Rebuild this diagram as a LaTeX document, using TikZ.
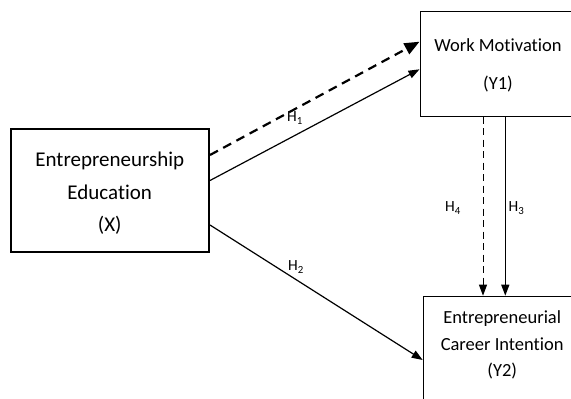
\documentclass[tikz,border=0pt]{standalone}
\usepackage{fontspec}
\setmainfont{Carlito}[Ligatures=NoCommon]
\usetikzlibrary{arrows.meta,calc}
\begin{document}
\begin{tikzpicture}[x=1pt,y=-1pt,
  construct/.style={draw,line width=1pt,inner sep=0pt},
  bigconstruct/.style={draw,line width=2pt,inner sep=0pt},
  caption/.style={align=center,inner sep=0pt},
  link/.style={line width=1.2pt,-{Triangle[length=11pt,width=8pt]}},
  dashlink/.style={line width=1pt,dash pattern=on 7pt off 4.5pt,-{Triangle[length=11pt,width=8pt]}},
  boldlink/.style={line width=2.2pt,dash pattern=on 9pt off 6pt,-{Triangle[length=15pt,width=12pt,sep=0pt]}},
  hyp/.style={font=\fontsize{15.5}{18}\selectfont,inner sep=0pt}]
\useasboundingbox (0,0) rectangle (571,399);
\clip (0,0) rectangle (571,399);

% constructs
\node[bigconstruct,minimum width=198.5pt,minimum height=123pt] (ex) at (109.75,190.5) {};
\node[caption,font=\fontsize{21}{32.5}\selectfont] (extxt) at ($(ex.center)+(0,3)$)
      {Entrepreneurship\\Education\\(X)};
\node[construct,anchor=north west,minimum width=156pt,minimum height=104.5pt] (wm) at (419.5,11) {};
\node[caption,font=\fontsize{18.5}{22.6}\selectfont] (wmtxt) at ($(wm.center)+(0,1.5)$)
      {Work Motivation\\[16pt](Y1)};
\node[construct,anchor=north west,minimum width=158pt,minimum height=120pt] (y2) at (422.7,295.7) {};
\node[caption,font=\fontsize{18.5}{26.3}\selectfont] (y2txt) at ($(y2.north)+(0,49.3)$)
      {Entrepreneurial\\Career Intention\\(Y2)};

% paths
\draw[boldlink] ($(ex.north east)+(0,27)$) -- ($(wm.north west)+(0,30.7)$);
\draw[link] ($(ex.north east)+(0,52.5)$) -- ($(wm.north west)+(0,58.3)$);
\draw[link] ($(ex.north east)+(0,97)$) -- ($(y2.north west)+(0,64.3)$);
\coordinate (c4) at (483,0);
\coordinate (c3) at (505.3,0);
\draw[dashlink] (c4 |- wm.south) -- (c4 |- y2.north);
\draw[link] (c3 |- wm.south) -- (c3 |- y2.north);

% hypothesis labels
\node[hyp] (h1) at (295,118) {H\textsubscript{1}};
\node[hyp] (h2) at (296,267) {H\textsubscript{2}};
\node[hyp] (h3) at (516.5,208) {H\textsubscript{3}};
\node[hyp] (h4) at (453,208) {H\textsubscript{4}};
\end{tikzpicture}
\end{document}
